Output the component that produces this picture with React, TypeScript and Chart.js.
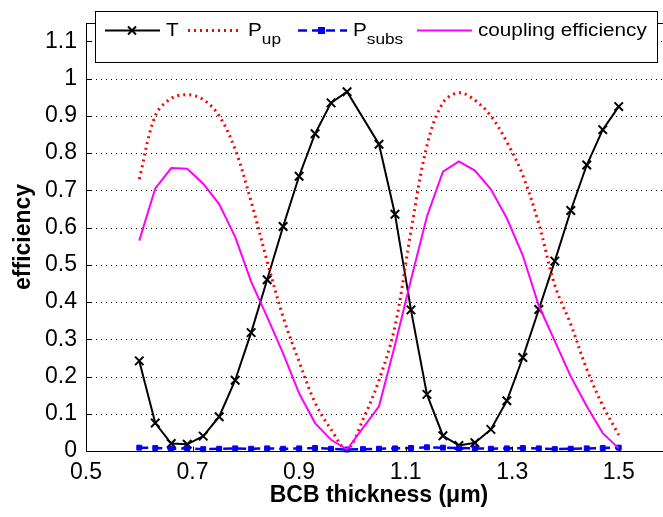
import React, { useEffect, useRef } from 'react';
import { Chart, registerables } from 'chart.js';

Chart.register(...registerables);

// ---- data ----
const thickness = [
  0.6, 0.63, 0.66, 0.69, 0.72, 0.75, 0.78, 0.81, 0.84, 0.87, 0.9, 0.93, 0.96, 0.99, 1.02, 1.05,
  1.08, 1.11, 1.14, 1.17, 1.2, 1.23, 1.26, 1.29, 1.32, 1.35, 1.38, 1.41, 1.44, 1.47, 1.5,
];
const transmissionT = [
  0.242, 0.075, 0.02, 0.018, 0.04, 0.092, 0.19, 0.318, 0.46, 0.603, 0.738, 0.852, 0.935, 0.965, null, 0.824,
  0.636, 0.379, 0.152, 0.041, 0.015, 0.022, 0.058, 0.135, 0.251, 0.38, 0.51, 0.646, 0.768, 0.863, 0.925,
];
const powerUp = [
  0.73, 0.9, 0.947, 0.957, 0.944, 0.9, 0.81, 0.67, 0.51, 0.36, 0.24, 0.13, 0.058, 0.005, 0.085, 0.19,
  0.335, 0.59, 0.82, 0.935, 0.962, 0.942, 0.9, 0.83, 0.74, 0.61, 0.445, 0.34, 0.22, 0.122, 0.043,
];
const powerSubs = [
  0.009, 0.008, 0.006, 0.007, 0.005, 0.006, 0.007, 0.006, 0.007, 0.006, 0.007, 0.008, 0.006, 0.004, 0.005, 0.006,
  0.007, 0.008, 0.01, 0.009, 0.008, 0.007, 0.006, 0.007, 0.008, 0.007, 0.005, 0.006, 0.007, 0.008, 0.009,
];
const couplingEff = [
  0.565, 0.705, 0.76, 0.758, 0.718, 0.663, 0.575, 0.455, 0.36, 0.262, 0.155, 0.075, 0.03, 0.004, 0.062, 0.12,
  0.285, 0.46, 0.63, 0.75, 0.778, 0.753, 0.703, 0.625, 0.525, 0.39, 0.295, 0.2, 0.12, 0.048, 0.007,
];
const xTickValues = [0.5, 0.7, 0.9, 1.1, 1.3, 1.5];
const yTickValues = [0, 0.1, 0.2, 0.3, 0.4, 0.5, 0.6, 0.7, 0.8, 0.9, 1, 1.1];

const FONT = '"Liberation Sans", Arial, sans-serif';

const toPoints = (ys: (number | null)[]) => thickness.map((x, i) => ({ x, y: ys[i] }));

const fmt = (v: number) => String(Math.round(v * 100) / 100);

const framePlugin = {
  id: 'matlabFrame',
  beforeDatasetsDraw(chart: any) {
    const { ctx, chartArea: a, scales } = chart;
    ctx.save();
    ctx.strokeStyle = '#000';
    ctx.lineWidth = 1;
    ctx.setLineDash([1, 4]);
    for (const v of yTickValues) {
      if (v === 0) continue;
      const y = Math.round(scales.y.getPixelForValue(v)) + 0.5;
      ctx.beginPath();
      ctx.moveTo(a.left, y);
      ctx.lineTo(a.right, y);
      ctx.stroke();
    }
    ctx.restore();
  },
  afterDatasetsDraw(chart: any) {
    const { ctx, chartArea: a, scales } = chart;
    ctx.save();
    ctx.strokeStyle = '#000';
    ctx.lineWidth = 1;
    ctx.setLineDash([]);
    const L = Math.round(a.left) + 0.5;
    const R = Math.round(a.right) + 0.5;
    const T = Math.round(a.top) + 0.5;
    const B = Math.round(a.bottom) + 0.5;
    ctx.strokeRect(L, T, R - L, B - T);
    const tl = 5;
    ctx.beginPath();
    for (const v of yTickValues) {
      const y = Math.round(scales.y.getPixelForValue(v)) + 0.5;
      ctx.moveTo(L, y); ctx.lineTo(L + tl, y);
      ctx.moveTo(R, y); ctx.lineTo(R - tl, y);
    }
    for (const v of xTickValues) {
      const x = Math.round(scales.x.getPixelForValue(v)) + 0.5;
      ctx.moveTo(x, B); ctx.lineTo(x, B - tl);
      ctx.moveTo(x, T); ctx.lineTo(x, T + tl);
    }
    ctx.stroke();
    ctx.restore();
  },
  afterDraw(chart: any) {
    const ctx: CanvasRenderingContext2D = chart.ctx;
    ctx.save();
    ctx.setLineDash([]);
    ctx.fillStyle = '#fff';
    ctx.fillRect(95, 11, 562, 51);
    ctx.strokeStyle = '#000';
    ctx.lineWidth = 1;
    ctx.strokeRect(95.5, 11.5, 562, 51);
    const cy = 30.5;
    const seg = (x1: number, x2: number, color: string, w: number, dash: number[]) => {
      ctx.save();
      ctx.strokeStyle = color;
      ctx.lineWidth = w;
      ctx.setLineDash(dash);
      ctx.beginPath();
      ctx.moveTo(x1, cy);
      ctx.lineTo(x2, cy);
      ctx.stroke();
      ctx.restore();
    };
    const sx = 1.15;
    const text = (s: string, x: number, y: number, size: number) => {
      ctx.save();
      ctx.font = `${size}px ${FONT}`;
      ctx.fillStyle = '#000';
      ctx.textBaseline = 'alphabetic';
      ctx.translate(x, y);
      ctx.scale(sx, 1);
      ctx.fillText(s, 0, 0);
      const w = ctx.measureText(s).width * sx;
      ctx.restore();
      return x + w;
    };
    const base = 36;
    // T
    seg(105, 160, '#000', 2, []);
    ctx.save();
    ctx.strokeStyle = '#000';
    ctx.lineWidth = 2;
    ctx.beginPath();
    ctx.moveTo(128, cy - 4); ctx.lineTo(136, cy + 4);
    ctx.moveTo(136, cy - 4); ctx.lineTo(128, cy + 4);
    ctx.stroke();
    ctx.restore();
    text('T', 166, base, 18);
    // P_up
    seg(188, 242, '#ff0000', 3, [2, 4]);
    let e = text('P', 248, base, 18);
    text('up', e, base + 8, 15);
    // P_subs
    seg(298, 347, '#0000ff', 2.5, [9, 5]);
    ctx.fillStyle = '#0000ff';
    ctx.fillRect(318, cy - 3.5, 7, 7);
    e = text('P', 353, base, 18);
    text('subs', e, base + 8, 15);
    // coupling efficiency
    seg(417, 472, '#ff00ff', 2, []);
    text('coupling efficiency', 478, base, 18);
    ctx.restore();
  },
};

export default function App() {
  const ref = useRef<HTMLCanvasElement>(null);
  useEffect(() => {
    if (!ref.current) return;
    const chart = new Chart(ref.current, {
      type: 'line',
      data: {
        datasets: [
          {
            label: 'T',
            data: toPoints(transmissionT),
            borderColor: '#000',
            backgroundColor: '#000',
            borderWidth: 2,
            pointStyle: 'crossRot',
            pointRadius: 6,
            pointBorderWidth: 2,
            pointBorderColor: '#000',
            spanGaps: true,
            tension: 0,
            order: 4,
          },
          {
            label: 'P_up',
            data: toPoints(powerUp),
            borderColor: '#ff0000',
            borderWidth: 3,
            borderDash: [2, 4],
            pointRadius: 0,
            tension: 0.35,
            order: 3,
          },
          {
            label: 'P_subs',
            data: toPoints(powerSubs),
            borderColor: '#0000ff',
            backgroundColor: '#0000ff',
            borderWidth: 2.5,
            borderDash: [9, 5],
            pointStyle: 'rect',
            pointRadius: 3.5,
            pointBorderWidth: 1,
            pointBorderColor: '#0000ff',
            pointBackgroundColor: '#0000ff',
            tension: 0,
            clip: false,
            order: 2,
          },
          {
            label: 'coupling efficiency',
            data: toPoints(couplingEff),
            borderColor: '#ff00ff',
            borderWidth: 2,
            pointRadius: 0,
            tension: 0,
            order: 1,
          },
        ],
      },
      options: {
        animation: false,
        responsive: false,
        maintainAspectRatio: false,
        layout: { padding: { left: 0, top: 4, right: 7, bottom: 0 } },
        plugins: { legend: { display: false }, tooltip: { enabled: false } },
        scales: {
          x: {
            type: 'linear',
            min: 0.5,
            max: 1.6,
            afterBuildTicks: (s: any) => { s.ticks = xTickValues.map((value) => ({ value })); },
            afterFit: (s: any) => { s.height = 66; },
            grid: { display: false, drawTicks: false },
            border: { display: false },
            ticks: {
              color: '#000',
              padding: 8,
              maxRotation: 0,
              autoSkip: false,
              font: { family: FONT, size: 23 },
              callback: (v: any) => fmt(Number(v)),
            },
            title: {
              display: true,
              text: 'BCB thickness (\u03bcm)',
              color: '#000',
              font: { family: FONT, size: 23, weight: 'bold' },
              padding: { top: 0, bottom: 8 },
            },
          },
          y: {
            type: 'linear',
            min: 0,
            max: 1.15,
            afterBuildTicks: (s: any) => { s.ticks = yTickValues.map((value) => ({ value })); },
            afterFit: (s: any) => { s.width = 86; },
            grid: { display: false, drawTicks: false },
            border: { display: false },
            ticks: {
              color: '#000',
              padding: 9,
              autoSkip: false,
              font: { family: FONT, size: 23 },
              callback: (v: any) => fmt(Number(v)),
            },
            title: {
              display: true,
              text: 'efficiency',
              color: '#000',
              font: { family: FONT, size: 23, weight: 'bold' },
              padding: { top: 10, bottom: 0 },
            },
          },
        },
      },
      plugins: [framePlugin],
    } as any);
    return () => chart.destroy();
  }, []);

  return (
    <div style={{ position: 'absolute', left: 0, top: 0, width: 663, height: 517, overflow: 'hidden', background: '#fff' }}>
      <canvas ref={ref} width={680} height={517} style={{ width: 680, height: 517, display: 'block' }} />
    </div>
  );
}
